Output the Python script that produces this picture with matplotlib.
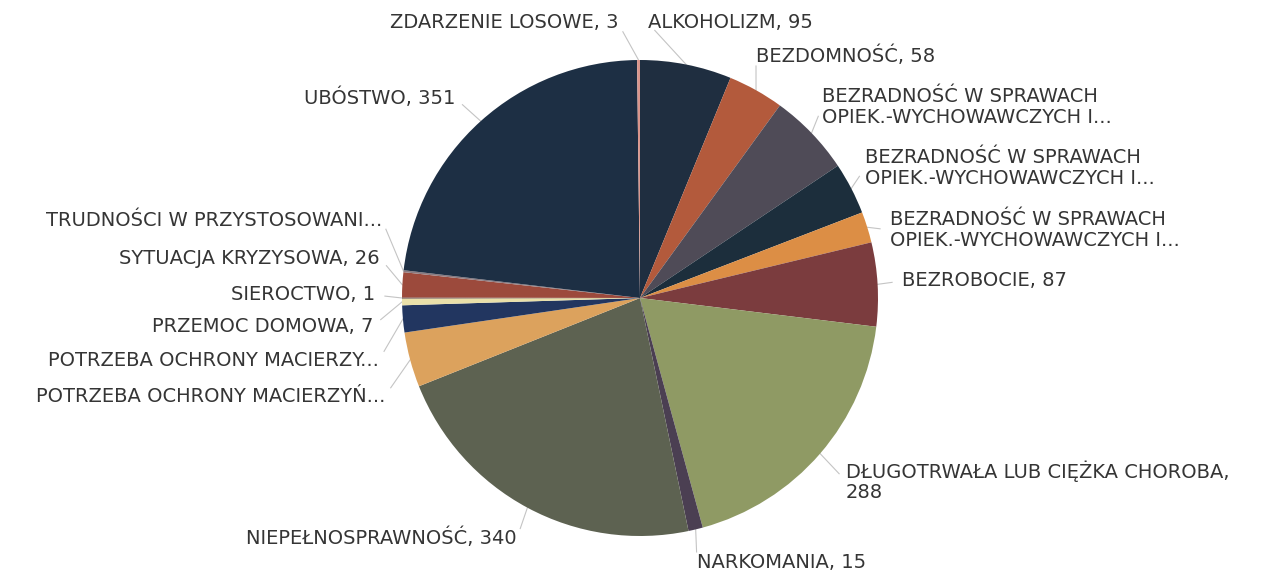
import numpy as np
import matplotlib
matplotlib.use("Agg")
import matplotlib.pyplot as plt

# ---- data (clockwise from 12 o'clock) ----
categories = [
    "ALKOHOLIZM, 95",
    "BEZDOMNOŚĆ, 58",
    "BEZRADNOŚĆ W SPRAWACH\nOPIEK.-WYCHOWAWCZYCH I...",
    "BEZRADNOŚĆ W SPRAWACH\nOPIEK.-WYCHOWAWCZYCH I...",
    "BEZRADNOŚĆ W SPRAWACH\nOPIEK.-WYCHOWAWCZYCH I...",
    "BEZROBOCIE, 87",
    "DŁUGOTRWAŁA LUB CIĘŻKA CHOROBA,\n288",
    "NARKOMANIA, 15",
    "NIEPEŁNOSPRAWNOŚĆ, 340",
    "POTRZEBA OCHRONY MACIERZYŃ...",
    "POTRZEBA OCHRONY MACIERZY...",
    "PRZEMOC DOMOWA, 7",
    "SIEROCTWO, 1",
    "SYTUACJA KRYZYSOWA, 26",
    "TRUDNOŚCI W PRZYSTOSOWANI...",
    "UBÓSTWO, 351",
    "ZDARZENIE LOSOWE, 3",
]
values = [95, 58, 86, 54, 32, 87, 288, 15, 340, 57, 28, 7, 1, 26, 2, 351, 3]
colors = ["#1f2e40", "#b35a3c", "#4f4b57", "#1c2e3c", "#dc8e45", "#7b3c3e",
          "#8f9a64", "#4b3f52", "#5d6251", "#dca25d", "#223660", "#e9e0aa",
          "#4a3030", "#9c4a3c", "#8a7a80", "#1d2f44", "#d9958c"]

# label anchor positions in pixels (x, y from top) and alignment
label_px = [(648, 23, "left"), (756, 56, "left"), (822, 107, "left"),
            (865, 168, "left"), (890, 230, "left"), (902, 281, "left"),
            (846, 481, "left"), (697, 562, "left"), (517, 538, "right"),
            (385, 396, "right"), (379, 360, "right"), (373, 326, "right"),
            (375, 295, "right"), (380, 258, "right"), (382, 220, "right"),
            (455, 98, "right"), (618, 23, "right")]

W, H = 1266, 571
CX, CY, R = 640, 298, 238

fig = plt.figure(figsize=(W / 100, H / 100), dpi=100)
ax = fig.add_axes([0, 0, 1, 1])

wedges, _ = ax.pie(values, colors=colors, startangle=90, counterclock=False,
                   radius=1.0, wedgeprops=dict(linewidth=0))

ax.set_xlim(-CX / R, (W - CX) / R)
ax.set_ylim(-(H - CY) / R, CY / R)
ax.set_aspect("equal")
ax.axis("off")


def px2d(x, y):
    return (x - CX) / R, (CY - y) / R


for w, lab, (lx, ly, ha) in zip(wedges, categories, label_px):
    ang = np.deg2rad((w.theta1 + w.theta2) / 2)
    ex, ey = np.cos(ang), np.sin(ang)
    ax_, ay_ = px2d(lx, ly)
    d = np.array([ex - ax_, ey - ay_])
    d = d / np.hypot(*d)
    gap = 10 / R
    endx, endy = ax_ + d[0] * gap, ay_ + d[1] * gap
    ax.plot([ex, endx], [ey, endy], color="#c4c4c4", lw=0.8, zorder=0)
    ax.text(ax_, ay_, lab, ha=ha, va="center", fontsize=14, color="#353535",
            linespacing=1.1, family="DejaVu Sans")

fig.savefig("out.png", dpi=100, facecolor="white")
